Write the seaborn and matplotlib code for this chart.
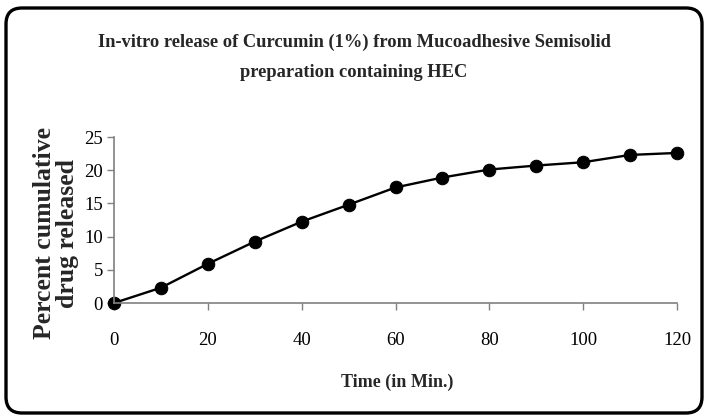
import matplotlib
matplotlib.use("Agg")
import matplotlib.pyplot as plt
from matplotlib.patches import FancyBboxPatch
import seaborn as sns
import pandas as pd

time_min = [0, 10, 20, 30, 40, 50, 60, 70, 80, 90, 100, 110, 120]
released = [0.0, 2.3, 5.9, 9.25, 12.25, 14.8, 17.4, 18.9, 20.1, 20.7, 21.2, 22.3, 22.6]
x_ticks = [0, 20, 40, 60, 80, 100, 120]
y_ticks = [0, 5, 10, 15, 20, 25]

title = "In-vitro release of Curcumin (1%) from Mucoadhesive Semisolid\npreparation containing HEC"
xlabel = "Time (in Min.)"
ylabel = "Percent cumulative\ndrug released"

sns.set_theme(style="white")
plt.rcParams['font.family'] = ['Liberation Serif', 'DejaVu Serif']

df = pd.DataFrame({"time": time_min, "released": released})

fig = plt.figure(figsize=(7.08, 4.16), dpi=100)
ax = fig.add_axes([114/708, 1-303/416, (677-114)/708, 166/416])

sns.lineplot(data=df, x="time", y="released", ax=ax, color="black",
             marker="o", markersize=9, linewidth=1.7, markeredgecolor="black",
             clip_on=False)

ax.set_xlim(0, 120)
ax.set_ylim(0, 25)
ax.set_xticks(x_ticks)
ax.set_yticks(y_ticks)
ax.set_xlabel("")
ax.set_ylabel("")
for s in ["top", "right"]:
    ax.spines[s].set_visible(False)
for s in ["left", "bottom"]:
    ax.spines[s].set_color("#808080")
    ax.spines[s].set_linewidth(1.2)
ax.tick_params(axis="x", direction="out", length=5, width=1, color="#808080",
               pad=16, labelsize=13.5, labelcolor="black", bottom=True)
ax.tick_params(axis="y", direction="out", length=5, width=1, color="#808080",
               pad=3, labelsize=13.5, labelcolor="black", left=True)

fig.text(354/708, 1-57.5/416, title, ha="center", va="center",
         fontsize=13.3, fontweight="bold", linespacing=2.05)
fig.text(397/708, 1-382/416, xlabel, ha="center", va="center",
         fontsize=13, fontweight="bold")
fig.text(56/708, 1-233/416, ylabel, ha="center", va="center", rotation=90,
         fontsize=18.5, fontweight="bold", multialignment="center", linespacing=0.95)

border = FancyBboxPatch((6, 3), 696, 405,
                        boxstyle="round,pad=0,rounding_size=16",
                        transform=None, facecolor="none", edgecolor="black",
                        linewidth=2.4)
fig.add_artist(border)

fig.savefig("out.png", dpi=100)
